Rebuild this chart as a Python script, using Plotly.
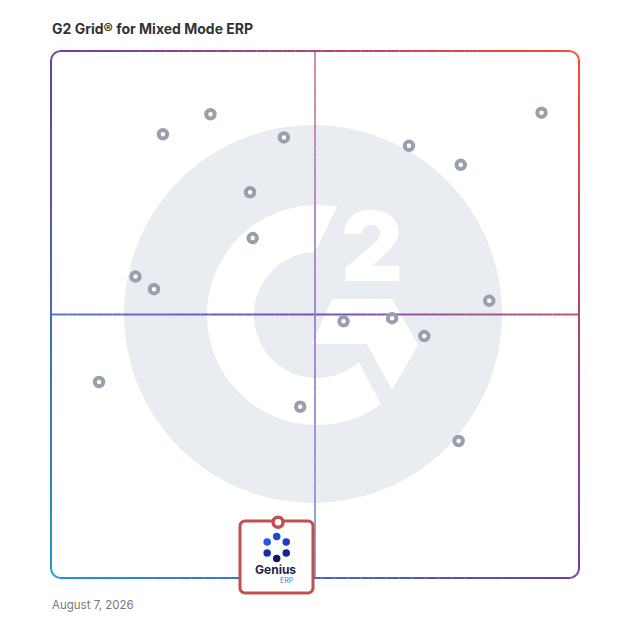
import numpy as np
import plotly.graph_objects as go

# ---------------- data ----------------
vendor_x = [21.2, 30.2, 44.1, 37.7, 38.2, 16.0, 19.5, 9.1, 47.2, 55.4, 64.6, 70.7, 83.0, 67.8, 77.6, 92.9, 77.2]
vendor_y = [84.2, 88.0, 83.6, 73.2, 64.5, 57.2, 54.8, 37.2, 32.5, 48.7, 49.3, 45.9, 52.6, 82.0, 78.4, 88.3, 26.0]
featured_name = ["Genius ERP"]
featured_x = [43.0]
featured_y = [10.6]
title_text = "G2 Grid® for Mixed Mode ERP"
date_text = "August 7, 2026"

# ---------------- geometry helpers (screen pixels -> paper) ----------------
OFF = 8                      # page body margin
W, H = 620, 620
L, R, T, B = 51, 579, 51, 578  # plot area in screen pixels


def px(x):
    return (x - L) / (R - L)


def py(y):
    return (B - y) / (B - T)


def hexc(c):
    return "#%02x%02x%02x" % tuple(int(round(v)) for v in c)


BLUE = np.array([0x1f, 0x95, 0xd6])
PURP = np.array([0x68, 0x3c, 0xb0])
RED = np.array([0xff, 0x49, 0x2c])


def grad(xp, yp):
    t = ((xp - L) / (R - L) + (B - yp) / (B - T)) / 2
    t = min(max(t, 0), 1)
    if t < 0.5:
        c = BLUE + (PURP - BLUE) * (t / 0.5)
    else:
        c = PURP + (RED - PURP) * ((t - 0.5) / 0.5)
    return c


def mix_white(c, a):
    return c * a + np.array([255, 255, 255]) * (1 - a)


shapes = []

# background G2 badge
cx, cy, cr = 313, 314, 189
shapes.append(dict(type="circle", xref="paper", yref="paper", layer="below",
                   x0=px(cx - cr), x1=px(cx + cr), y0=py(cy + cr), y1=py(cy - cr),
                   fillcolor="#e9ecf0", line=dict(width=0)))

# white "C"
ccx, ccy, ro, ri = 317, 315, 110, 63
pts = []
for a in np.linspace(np.radians(79.5), np.radians(305.6), 80):
    pts.append((ccx + ro * np.cos(a), ccy - ro * np.sin(a)))
for a in np.linspace(np.radians(311.6), np.radians(91.8), 80):
    pts.append((ccx + ri * np.cos(a), ccy - ri * np.sin(a)))
path = "M " + " L ".join(f"{px(x):.5f},{py(y):.5f}" for x, y in pts) + " Z"
shapes.append(dict(type="path", xref="paper", yref="paper", layer="below", path=path,
                   fillcolor="white", line=dict(width=0)))

# white chevron
chev = [(332, 299), (392, 299), (418, 345), (392, 390), (367, 344), (312, 344)]
path = "M " + " L ".join(f"{px(x):.5f},{py(y):.5f}" for x, y in chev) + " Z"
shapes.append(dict(type="path", xref="paper", yref="paper", layer="below", path=path,
                   fillcolor="white", line=dict(width=0)))

# gradient mid lines
mx, my = 315, 314.5
n = 60
xs = np.linspace(L, R, n + 1)
for i in range(n):
    xm = (xs[i] + xs[i + 1]) / 2
    col = hexc(mix_white(grad(xm, my), 0.9))
    shapes.append(dict(type="line", xref="paper", yref="paper", layer="below",
                       x0=px(xs[i]), x1=px(xs[i + 1]), y0=py(my), y1=py(my),
                       line=dict(color=col, width=2)))
ys = np.linspace(T, B, n + 1)
for i in range(n):
    ym = (ys[i] + ys[i + 1]) / 2
    col = hexc(mix_white(grad(mx, ym), 0.6))
    shapes.append(dict(type="line", xref="paper", yref="paper", layer="below",
                       x0=px(mx), x1=px(mx), y0=py(ys[i]), y1=py(ys[i + 1]),
                       line=dict(color=col, width=2)))

# gradient rounded border
rad = 10
border = []
def arc(cx_, cy_, a0, a1, k=10):
    return [(cx_ + rad * np.cos(np.radians(a)), cy_ - rad * np.sin(np.radians(a)))
            for a in np.linspace(a0, a1, k)]
def seg(p0, p1, k):
    return [(p0[0] + (p1[0] - p0[0]) * s, p0[1] + (p1[1] - p0[1]) * s) for s in np.linspace(0, 1, k)]
border += seg((L + rad, T), (R - rad, T), 40)
border += arc(R - rad, T + rad, 90, 0)
border += seg((R, T + rad), (R, B - rad), 40)
border += arc(R - rad, B - rad, 0, -90)
border += seg((R - rad, B), (L + rad, B), 40)
border += arc(L + rad, B - rad, 270, 180)
border += seg((L, B - rad), (L, T + rad), 40)
border += arc(L + rad, T + rad, 180, 90)
for (x0, y0), (x1, y1) in zip(border[:-1], border[1:]):
    if abs(x0 - x1) < 1e-6 and abs(y0 - y1) < 1e-6:
        continue
    col = hexc(grad((x0 + x1) / 2, (y0 + y1) / 2))
    shapes.append(dict(type="line", xref="paper", yref="paper", layer="below",
                       x0=px(x0), x1=px(x1), y0=py(y0), y1=py(y1),
                       line=dict(color=col, width=2)))

# featured vendor logo box
bx0, bx1, by0, by1, br = 240, 313, 521, 593, 5
bpts = []
def rarc(cx_, cy_, a0, a1, k=8):
    return [(cx_ + br * np.cos(np.radians(a)), cy_ - br * np.sin(np.radians(a)))
            for a in np.linspace(a0, a1, k)]
bpts += rarc(bx1 - br, by0 + br, 90, 0)
bpts += rarc(bx1 - br, by1 - br, 0, -90)
bpts += rarc(bx0 + br, by1 - br, 270, 180)
bpts += rarc(bx0 + br, by0 + br, 180, 90)
path = "M " + " L ".join(f"{px(x):.5f},{py(y):.5f}" for x, y in bpts) + " Z"
shapes.append(dict(type="path", xref="paper", yref="paper", layer="below", path=path,
                   fillcolor="white", line=dict(color="#c0504f", width=3)))

fig = go.Figure()

# Genius ERP logo: ring of dots
lcx, lcy, lr = 276.7, 547.5, 11
ang = np.radians([90, 30, -30, -90, -150, 150])
fig.add_trace(go.Scatter(
    x=[(lcx + lr * np.cos(a) - L) / (R - L) * 100 for a in ang],
    y=[(B - (lcy - lr * np.sin(a))) / (B - T) * 100 for a in ang],
    mode="markers", hoverinfo="skip", showlegend=False, cliponaxis=False,
    marker=dict(size=7.5, color=["#2048d8", "#1a3cc0", "#12258a", "#0c1a66", "#16309e", "#2a55e8"],
                line=dict(width=0))))

# vendors
fig.add_trace(go.Scatter(
    x=vendor_x, y=vendor_y, mode="markers", showlegend=False,
    marker=dict(size=8.5, color="white", line=dict(color="#9aa0ab", width=4))))

# featured vendor
fig.add_trace(go.Scatter(
    x=featured_x, y=featured_y, mode="markers", showlegend=False, cliponaxis=False,
    text=featured_name,
    marker=dict(size=10, color="white", line=dict(color="#c0504f", width=3.5))))

annotations = [
    dict(text="2", xref="paper", yref="paper", x=px(372), y=py(246), showarrow=False,
         font=dict(family="Inter, Lato, sans-serif", size=96, color="white", weight=900),
         xanchor="center", yanchor="middle"),
    dict(text="<b>Genius</b>", xref="paper", yref="paper", x=px(275.5), y=py(569.5), showarrow=False,
         font=dict(family="Inter, Lato, sans-serif", size=12, color="#1b1f4a"),
         xanchor="center", yanchor="middle"),
    dict(text="ERP", xref="paper", yref="paper", x=px(286.5), y=py(580.5), showarrow=False,
         font=dict(family="Inter, Lato, sans-serif", size=7, color="#2f7fe6"),
         xanchor="center", yanchor="middle"),
    dict(text=f"<b>{title_text}</b>", xref="paper", yref="paper", x=px(50), y=py(28.5), showarrow=False,
         font=dict(family="Inter, Lato, sans-serif", size=14, color="#333333"),
         xanchor="left", yanchor="middle"),
    dict(text=date_text, xref="paper", yref="paper", x=px(50), y=py(604.5), showarrow=False,
         font=dict(family="Inter, Lato, sans-serif", size=11.5, color="#777777"),
         xanchor="left", yanchor="middle"),
]

fig.update_layout(
    width=W, height=H,
    margin=dict(l=L - OFF, r=W - (R - OFF), t=T - OFF, b=H - (B - OFF), pad=0),
    paper_bgcolor="white", plot_bgcolor="white",
    xaxis=dict(range=[0, 100], visible=False, showgrid=False, zeroline=False, fixedrange=True),
    yaxis=dict(range=[0, 100], visible=False, showgrid=False, zeroline=False, fixedrange=True),
    shapes=shapes, annotations=annotations, showlegend=False,
)

fig.write_html("out.html")
